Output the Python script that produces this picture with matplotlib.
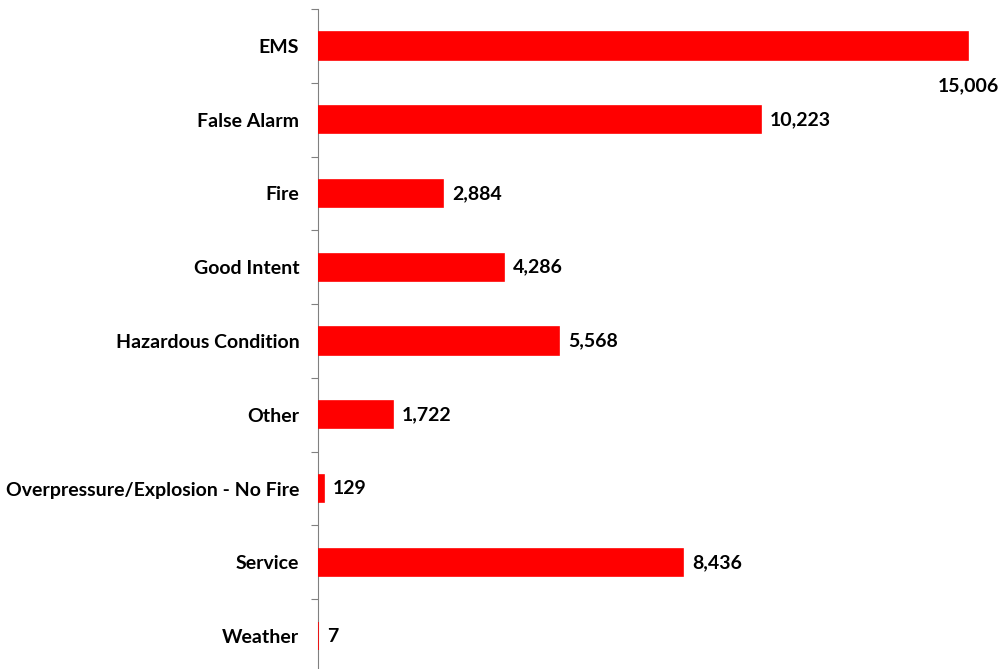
import matplotlib.pyplot as plt

categories = ["EMS", "False Alarm", "Fire", "Good Intent", "Hazardous Condition",
              "Other", "Overpressure/Explosion - No Fire", "Service", "Weather"]
counts = [15006, 10223, 2884, 4286, 5568, 1722, 129, 8436, 7]

plt.rcParams['font.family'] = ['Lato', 'DejaVu Sans']

fig = plt.figure(figsize=(9.99, 6.69), dpi=100)
# axes runs a little past the bottom of the figure, as in the original
ax = fig.add_axes([318 / 999, -4 / 669, 681 / 999, 664 / 669])

y = list(range(len(categories)))
# red edge + zorder above the spine keeps the tiny "Weather" bar visible
ax.barh(y, counts, height=0.37, color="#ff0000", edgecolor="#ff0000",
        linewidth=1.2, zorder=3)
ax.set_ylim(len(categories) - 0.5, -0.5)
ax.set_xlim(0, 15720)

for i, v in enumerate(counts):
    txt = f"{v:,}"
    if i == 0:
        ax.annotate(txt, (v, i), xytext=(0, -29), textcoords="offset points",
                    ha="center", va="center", fontsize=14, fontweight="bold")
    else:
        ax.annotate(txt, (v, i), xytext=(6.5, 0), textcoords="offset points",
                    ha="left", va="center", fontsize=14, fontweight="bold")

ax.set_yticks(y)
ax.set_yticklabels(categories, fontsize=14, fontweight="bold")
ax.set_yticks([i - 0.5 for i in range(len(categories) + 1)], minor=True)
ax.tick_params(axis="y", which="major", length=0, pad=13.5)
ax.tick_params(axis="y", which="minor", length=5, color="#808080", width=0.8)
ax.set_xticks([])
for s in ["top", "right", "bottom"]:
    ax.spines[s].set_visible(False)
ax.spines["left"].set_color("#808080")
ax.spines["left"].set_linewidth(0.8)

fig.savefig("out.png", dpi=100)
